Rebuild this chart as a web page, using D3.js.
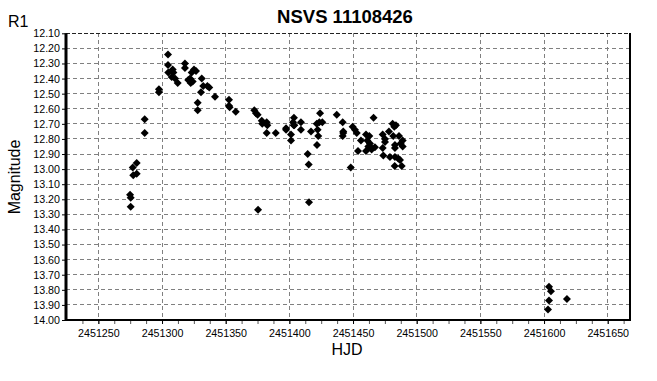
<!DOCTYPE html>
<html><head><meta charset="utf-8">
<script src="https://cdn.jsdelivr.net/npm/d3@7"></script>
<style>
body{margin:0;background:#fff}
svg{display:block}
text{font-family:"Liberation Sans",Arial,sans-serif}
</style>
</head><body>
<svg id="chart" width="657" height="381"></svg>
<script>
const chartTitle = "NSVS 11108426";
const yUnitLabel = "R1";
const yAxisTitle = "Magnitude";
const xAxisTitle = "HJD";

const hjd = [
  2451274.9,2451275.4,2451275.4,2451280.1,2451277.0,2451277.4,2451280.1,2451286.4,2451286.4,2451297.6,
  2451297.6,2451304.7,2451304.7,2451304.9,2451308.4,2451308.9,2451307.6,2451310.2,2451312.3,2451318.0,
  2451318.0,2451325.1,2451326.7,2451323.3,2451322.0,2451320.6,2451324.1,2451322.5,2451331.2,2451332.4,
  2451335.6,2451337.1,2451330.6,2451341.6,2451328.0,2451328.0,
  2451352.6,2451352.6,2451353.1,2451357.9,2451372.5,2451373.8,2451375.1,2451378.3,2451378.7,2451382.2,
  2451382.7,2451382.2,2451389.3,2451375.4,2451397.4,2451397.4,2451403.6,2451402.9,2451403.4,2451403.9,
  2451401.3,2451401.3,2451409.1,2451409.1,2451424.1,2451421.5,2451423.5,2451425.9,2451417.0,2451422.2,
  2451422.7,2451421.7,2451414.4,2451415.2,2451415.4,
  2451437.2,2451441.9,2451442.3,2451442.3,2451441.9,2451449.7,2451451.5,2451452.9,2451466.1,2451448.2,
  2451453.9,2451456.2,2451460.2,2451462.8,2451461.2,2451463.3,2451462.0,2451464.6,2451467.2,2451460.2,
  2451464.6,2451473.3,2451475.1,2451475.1,2451473.3,2451473.8,2451478.2,2451481.1,2451483.7,2451482.4,
  2451481.6,2451486.1,2451489.0,2451487.4,2451482.9,2451482.9,2451489.0,2451479.0,2451482.9,2451485.5,
  2451486.9,2451482.7,2451488.2,
  2451603.9,2451605.4,2451603.9,2451603.1,2451618.0
];
const mag = [
  13.17,13.19,13.25,12.96,12.99,13.04,13.03,12.67,12.76,12.47,
  12.49,12.24,12.31,12.36,12.34,12.36,12.39,12.40,12.43,12.30,
  12.33,12.34,12.35,12.36,12.40,12.41,12.42,12.43,12.40,12.45,
  12.45,12.46,12.49,12.52,12.56,12.61,
  12.54,12.58,12.59,12.62,12.61,12.63,12.64,12.68,12.70,12.69,
  12.71,12.76,12.76,13.27,12.73,12.74,12.66,12.69,12.71,12.71,
  12.77,12.81,12.69,12.74,12.63,12.70,12.69,12.69,12.75,12.74,
  12.78,12.84,12.90,12.97,13.22,
  12.64,12.69,12.75,12.76,12.78,12.72,12.74,12.76,12.66,12.99,
  12.88,12.81,12.77,12.78,12.81,12.83,12.85,12.86,12.855,12.88,
  12.87,12.77,12.80,12.82,12.86,12.91,12.75,12.70,12.71,12.72,
  12.78,12.78,12.81,12.83,12.84,12.86,12.85,12.92,12.92,12.93,
  12.94,12.98,12.98,
  13.78,13.81,13.87,13.93,13.86
];

const xTicks = [2451250,2451300,2451350,2451400,2451450,2451500,2451550,2451600,2451650];
const xMinorTicks = d3.range(2451237.5, 2451667, 12.5);
const yTicks = d3.range(0, 20).map(i => +(12.1 + i * 0.1).toFixed(2));

const L = 66, R = 630, T = 33.3, B = 320;
const x = d3.scaleLinear().domain([2451224.6, 2451667.5]).range([L, R]);
const y = d3.scaleLinear().domain([12.1, 14.0]).range([T, B]);

const svg = d3.select("#chart");
svg.append("rect").attr("width", 657).attr("height", 381).attr("fill", "#fff");

// grid
const grid = svg.append("g");
grid.selectAll("line.h").data(yTicks.filter(v => v > 12.1 && v < 14.0)).join("line")
  .attr("x1", L).attr("x2", R).attr("y1", d => y(d)).attr("y2", d => y(d))
  .attr("stroke", "#808080").attr("stroke-width", 1).attr("stroke-dasharray", "4,3")
  .attr("shape-rendering", "crispEdges");
grid.selectAll("line.v").data(xTicks).join("line")
  .attr("x1", d => x(d)).attr("x2", d => x(d)).attr("y1", T).attr("y2", B)
  .attr("stroke", "#808080").attr("stroke-width", 1).attr("stroke-dasharray", "4,3")
  .attr("shape-rendering", "crispEdges");
// top border (dashed dark)
svg.append("line").attr("x1", L).attr("x2", R).attr("y1", y(12.1)).attr("y2", y(12.1))
  .attr("stroke", "#222").attr("stroke-width", 1).attr("stroke-dasharray", "4,2")
  .attr("shape-rendering", "crispEdges");
// right border
svg.append("line").attr("x1", R).attr("x2", R).attr("y1", T).attr("y2", B + 1)
  .attr("stroke", "#000").attr("stroke-width", 2).attr("shape-rendering", "crispEdges");

// axes
const yAxis = svg.append("g").attr("transform", `translate(${L},0)`)
  .call(d3.axisLeft(y).tickValues(yTicks).tickFormat(d3.format(".2f")).tickSize(4).tickSizeOuter(0).tickPadding(2));
const xMinor = svg.append("g").attr("transform", `translate(0,${B})`)
  .call(d3.axisBottom(x).tickValues(xMinorTicks).tickFormat("").tickSize(4).tickSizeOuter(0));
const xAxis = svg.append("g").attr("transform", `translate(0,${B})`)
  .call(d3.axisBottom(x).tickValues(xTicks).tickFormat(d3.format("d")).tickSize(4).tickSizeOuter(0).tickPadding(5));
[yAxis, xAxis, xMinor].forEach(g => {
  g.selectAll("text").attr("font-size", "10.7px").attr("fill", "#000")
    .attr("font-family", '"Liberation Sans",Arial,sans-serif');
  g.selectAll(".tick line").attr("stroke", "#000");
  g.select(".domain").remove();
});
xMinor.selectAll(".tick line").attr("stroke", "#555");
svg.append("line").attr("x1", L).attr("x2", R + 1).attr("y1", B).attr("y2", B)
  .attr("stroke", "#000").attr("stroke-width", 2.2);
svg.append("line").attr("x1", L).attr("x2", L).attr("y1", T).attr("y2", B + 1)
  .attr("stroke", "#000").attr("stroke-width", 3);

// points
const pts = hjd.map((h, i) => ({h, m: mag[i]}));
const sym = d3.symbol().type(d3.symbolSquare).size(32);
svg.append("g").selectAll("path").data(pts).join("path")
  .attr("d", sym)
  .attr("transform", d => `translate(${x(d.h)},${y(d.m)}) rotate(45)`)
  .attr("fill", "#000");

// texts
svg.append("text").attr("x", 345).attr("y", 23).attr("text-anchor", "middle")
  .attr("font-size", "18.5px").attr("font-weight", "bold").attr("fill", "#000").text(chartTitle);
svg.append("text").attr("x", 8).attr("y", 27)
  .attr("font-size", "16px").attr("fill", "#000").text(yUnitLabel);
svg.append("text").attr("transform", "translate(20,177) rotate(-90)").attr("text-anchor", "middle")
  .attr("font-size", "16px").attr("fill", "#000").text(yAxisTitle);
svg.append("text").attr("x", 347).attr("y", 355).attr("text-anchor", "middle")
  .attr("font-size", "16px").attr("fill", "#000").text(xAxisTitle);
</script>
</body></html>
